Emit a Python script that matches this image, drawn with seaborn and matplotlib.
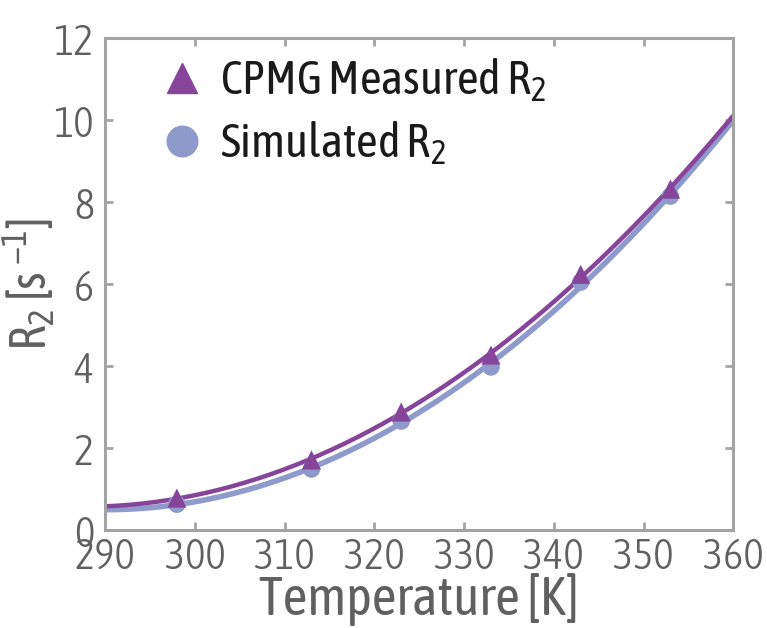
import numpy as np
import pandas as pd
import matplotlib
matplotlib.use("Agg")
import matplotlib.pyplot as plt
from matplotlib.lines import Line2D
import seaborn as sns

# ---- data ----
temps = [298, 313, 323, 333, 343, 353]
r2_measured = [0.78, 1.71, 2.88, 4.27, 6.24, 8.32]
r2_simulated = [0.63, 1.49, 2.66, 3.98, 6.05, 8.15]
x_ticks = [290, 300, 310, 320, 330, 340, 350, 360]
y_ticks = [0, 2, 4, 6, 8, 10, 12]
legend_labels = ["CPMG Measured R$_2$", "Simulated R$_2$"]

purple = "#86459B"
lav = "#8D9ACB"
gray = "#a3a3a3"
txt_gray = "#606060"

sns.set_theme(style="white")
plt.rcParams["font.family"] = ["Asap Condensed", "DejaVu Sans"]
plt.rcParams["font.weight"] = 300
plt.rcParams["mathtext.default"] = "regular"

fig = plt.figure(figsize=(7.67, 6.28), dpi=100)
ax = fig.add_axes([0.137, 0.156, 0.819, 0.783])

# fitted quadratic curves through the points
tt = np.linspace(290, 360, 200)
fit_m = np.polyval(np.polyfit(temps, r2_measured, 2), tt)
fit_s = np.polyval(np.polyfit(temps, r2_simulated, 2), tt)

sns.lineplot(x=tt, y=fit_s, color=lav, linewidth=4.0, ax=ax, legend=False)
sns.lineplot(x=tt, y=fit_m, color=purple, linewidth=3.2, ax=ax, legend=False)

pts_s = pd.DataFrame({"T": temps, "R2": r2_simulated})
pts_m = pd.DataFrame({"T": temps, "R2": r2_measured})
sns.scatterplot(data=pts_s, x="T", y="R2", color=lav, marker="o", s=160,
                edgecolor="none", ax=ax, zorder=3)
sns.scatterplot(data=pts_m, x="T", y="R2", color=purple, marker="^", s=190,
                edgecolor="none", ax=ax, zorder=4)

ax.set_xlim(290, 360)
ax.set_ylim(0, 12)
ax.set_xticks(x_ticks)
ax.set_yticks(y_ticks)
for s in ax.spines.values():
    s.set_visible(True)
    s.set_color(gray)
    s.set_linewidth(2.2)
ax.tick_params(axis="both", which="both", direction="in", length=6, width=2,
               color=gray, top=True, right=True, bottom=True, left=True,
               labelsize=31, labelcolor=txt_gray, pad=8)
ax.tick_params(axis="x", pad=4)

ax.set_xlabel("Temperature [K]", fontsize=39, color=txt_gray, labelpad=-3)
ax.set_ylabel("R$_2$ [s $^{-1}$]", fontsize=36, color=txt_gray, labelpad=-3)

handles = [Line2D([], [], marker="^", color=purple, linestyle="none", markersize=22),
           Line2D([], [], marker="o", color=lav, linestyle="none", markersize=22)]
leg = ax.legend(handles, legend_labels, loc="upper left",
                frameon=False, handletextpad=0.3, labelspacing=0.32,
                borderaxespad=0.0, handlelength=1.0,
                prop={"weight": 400, "size": 34},
                bbox_to_anchor=(0.055, 1.0))
for t in leg.get_texts():
    t.set_color("#1a1a1a")

fig.savefig("out.png", dpi=100)
